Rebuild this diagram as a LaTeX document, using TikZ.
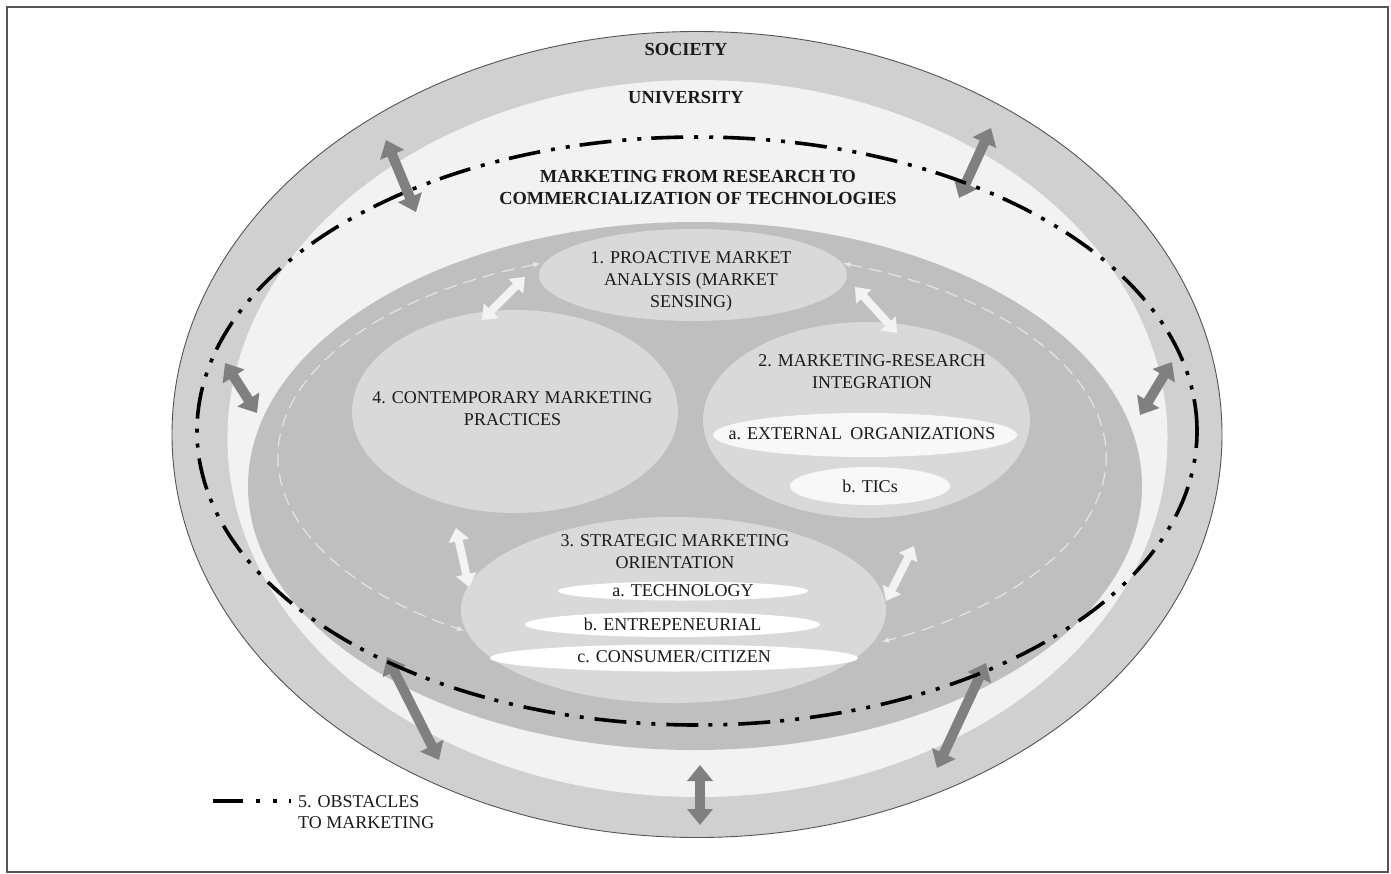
\documentclass[tikz,border=0pt]{standalone}
\usepackage{fontspec}
\setmainfont{Liberation Serif}
\usetikzlibrary{shapes.geometric,arrows.meta}
\definecolor{socgray}{HTML}{D0D0D0}
\definecolor{unigray}{HTML}{F2F2F2}
\definecolor{mktgray}{HTML}{BFBFBF}
\definecolor{elgray}{HTML}{D9D9D9}
\definecolor{subwhite}{HTML}{F8F8F8}
\definecolor{arrgray}{HTML}{808080}
\definecolor{warr}{HTML}{F3F3F3}
\definecolor{cycgray}{HTML}{E4E4E4}
\definecolor{txt}{HTML}{1A1A1A}
\definecolor{framegray}{HTML}{555555}
\begin{document}
\begin{tikzpicture}[x=1pt,y=-1pt,
 ell/.style={ellipse, inner sep=0pt, draw=none},
 lbl/.style={font=\fontsize{18}{22}\selectfont, text=txt, align=center, inner sep=0pt},
 blbl/.style={font=\fontsize{18.4}{22}\selectfont\bfseries, text=txt, align=center, inner sep=0pt},
 darr/.style={line width=10pt, draw=arrgray, arrows={Triangle[width=25pt,length=16pt]-Triangle[width=25pt,length=16pt]}},
 warrow/.style={line width=8pt, draw=warr, arrows={Triangle[width=20pt,length=13pt]-Triangle[width=20pt,length=13pt]}},
 cyc/.style={draw=cycgray, line width=1.2pt, dash pattern=on 13pt off 7pt, arrows={Latex[length=7pt,width=6pt]-Latex[length=7pt,width=6pt]}},
 obst/.style={line width=3.6pt, line cap=butt, dash pattern=on 32pt off 10pt on 4pt off 11pt on 4pt off 11pt}
]
\useasboundingbox (0,0) rectangle (1391,873);
\fill[white] (0,0) rectangle (1391,873);
\draw[framegray, line width=1.3pt] (7,7) rectangle (1388,872);

% nested regions
\node[ell, fill=socgray, draw=framegray, line width=0.9pt, minimum width=1050pt, minimum height=806pt] (soc) at (697,434.5) {};
\node[ell, fill=unigray, minimum width=940pt, minimum height=717pt] (uni) at (697.5,438.5) {};
\node[ell, fill=mktgray, minimum width=894pt, minimum height=528pt] (mkt) at (695,486) {};

% cycle arcs
\coordinate (c1) at (540.3,263.5);
\coordinate (c2) at (843.1,263.3);
\draw[cyc] (c1) arc[start angle=111.5, end angle=236.6, x radius=414pt, y radius=208pt];
\draw[cyc] (c2) arc[start angle=68.6, end angle=-62.7, x radius=414pt, y radius=208pt];

% four components
\node[ell, fill=elgray, minimum width=308pt, minimum height=92pt] (pro) at (693,275) {};
\node[ell, fill=elgray, minimum width=327pt, minimum height=196pt] (mri) at (866.5,420) {};
\node[ell, fill=elgray, minimum width=326pt, minimum height=203pt] (con) at (515,411.5) {};
\node[ell, fill=elgray, minimum width=425pt, minimum height=186pt] (str) at (673.5,610) {};

% sub ellipses
\node[ell, fill=subwhite, minimum width=304pt, minimum height=44pt] (ext) at (865,435) {};
\node[ell, fill=subwhite, minimum width=160pt, minimum height=38pt] (tic) at (870,486) {};
\node[ell, fill=white, minimum width=250pt, minimum height=19pt] (tec) at (683,591) {};
\node[ell, fill=white, minimum width=295pt, minimum height=25pt] (ent) at (672.5,624.5) {};
\node[ell, fill=white, minimum width=368pt, minimum height=27pt] (cc) at (674,658) {};

% labels
\node[blbl] (socl) at (686,49) {SOCIETY};
\node[blbl] (unil) at (686,98) {UNIVERSITY};
\node[blbl] (mktl) at (698,187) {MARKETING FROM RESEARCH TO\\COMMERCIALIZATION OF TECHNOLOGIES};
\node[lbl] (prol) at (691,281) {1. PROACTIVE MARKET\\ANALYSIS (MARKET\\SENSING)};
\node[lbl] (conl) at (512.5,409) {4. CONTEMPORARY MARKETING\\PRACTICES};
\node[lbl] (mril) at (872,372) {2. MARKETING-RESEARCH\\INTEGRATION};
\node[lbl] (extl) at (862,434) {a. EXTERNAL\hspace{4pt} ORGANIZATIONS};
\node[lbl] (ticl) at (870,486) {b. TICs};
\node[lbl] (strl) at (675,551.5) {3. STRATEGIC MARKETING\\ORIENTATION};
\node[lbl] (tecl) at (683,591) {a. TECHNOLOGY};
\node[lbl] (entl) at (672.5,624) {b. ENTREPENEURIAL};
\node[lbl] (ccl) at (674,657) {c. CONSUMER/CITIZEN};

% white arrows between components
\coordinate (w1a) at (482,320); \coordinate (w1b) at (525,277);
\coordinate (w2a) at (855,287); \coordinate (w2b) at (897,333);
\coordinate (w3a) at (456,528); \coordinate (w3b) at (469,587);
\coordinate (w4a) at (914,546); \coordinate (w4b) at (886,601);
\draw[warrow] (w1a) -- (w1b);
\draw[warrow] (w2a) -- (w2b);
\draw[warrow] (w3a) -- (w3b);
\draw[warrow] (w4a) -- (w4b);

% dark arrows across levels
\coordinate (d1a) at (386,140); \coordinate (d1b) at (416,212);
\coordinate (d2a) at (991,128); \coordinate (d2b) at (959,198);
\coordinate (d3a) at (225,363); \coordinate (d3b) at (257,413);
\coordinate (d4a) at (1172,362); \coordinate (d4b) at (1140,415);
\coordinate (d5a) at (387,657); \coordinate (d5b) at (439,760);
\coordinate (d6a) at (986,663); \coordinate (d6b) at (937,768);
\coordinate (d7a) at (700,765); \coordinate (d7b) at (700,825);
\draw[darr] (d1a) -- (d1b);
\draw[darr] (d2a) -- (d2b);
\draw[darr] (d3a) -- (d3b);
\draw[darr] (d4a) -- (d4b);
\draw[darr] (d5a) -- (d5b);
\draw[darr] (d6a) -- (d6b);
\draw[darr] (d7a) -- (d7b);

% obstacles line
\draw[obst] (697,431) ellipse [x radius=500pt, y radius=294pt];

% legend
\coordinate (lg1) at (213,801); \coordinate (lg2) at (291,801);
\draw[line width=3.6pt, dash pattern=on 30pt off 13pt on 4pt off 13pt on 4pt off 12pt on 2pt off 20pt] (lg1) -- (lg2);
\node[lbl, anchor=west, align=left, font=\fontsize{18}{21}\selectfont] (lgl) at (298,812) {5. OBSTACLES\\TO MARKETING};
\end{tikzpicture}
\end{document}
